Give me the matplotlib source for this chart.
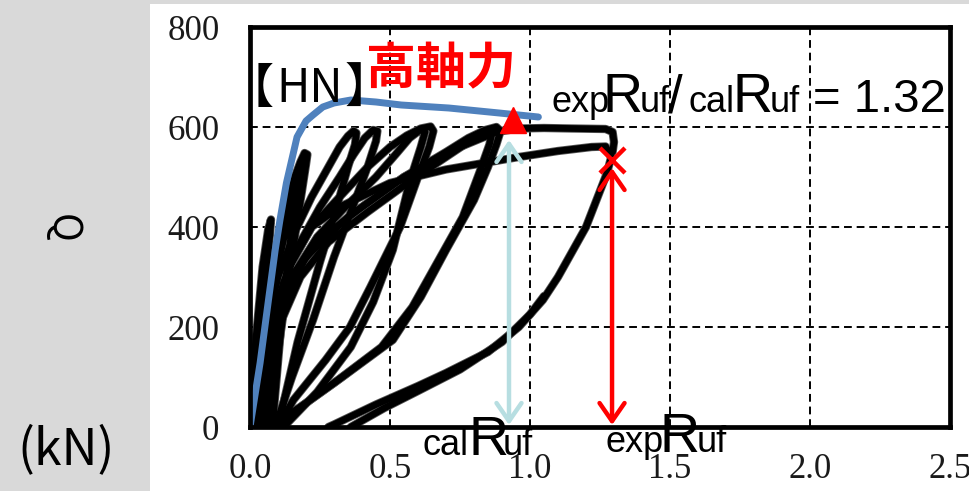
import matplotlib
matplotlib.use("Agg")
import matplotlib.pyplot as plt
from matplotlib.patches import Rectangle

# ---------------- data ----------------
x_ticks = [0.0, 0.5, 1.0, 1.5, 2.0, 2.5]
x_tick_labels = ["0.0", "0.5", "1.0", "1.5", "2.0", "2.5"]
y_ticks = [0, 200, 400, 600, 800]
y_tick_labels = ["0", "200", "400", "600", "800"]

# calculated skeleton curve (blue)
blue_R = [0.00, 0.036, 0.065, 0.09, 0.107, 0.13, 0.168, 0.20, 0.225, 0.26, 0.30, 0.36, 0.45, 0.54, 0.71, 0.89, 1.03]
blue_Q = [0, 128, 250, 354, 414, 488, 580, 612, 624, 640, 648, 654, 650, 644, 638, 628, 620]

# experimental hysteresis loops (black), each: loading branch then unloading branch
loopA_R = [0.00, 0.02, 0.045, 0.065, 0.075, 0.072, 0.06, 0.04, 0.02]
loopA_Q = [0, 170, 320, 395, 415, 390, 320, 170, 0]

loopB_R = [0.01, 0.04, 0.08, 0.12, 0.16, 0.18, 0.195, 0.205, 0.20, 0.185, 0.16, 0.13, 0.10, 0.07]
loopB_Q = [0, 170, 320, 420, 500, 530, 548, 545, 525, 470, 380, 270, 150, 0]

loopB2_R = [0.02, 0.05, 0.09, 0.13, 0.16, 0.18, 0.185, 0.175, 0.15, 0.12, 0.08]
loopB2_Q = [0, 160, 300, 400, 470, 510, 520, 490, 400, 260, 0]

loopC_R = [0.02, 0.06, 0.10, 0.16, 0.22, 0.28, 0.32, 0.35, 0.37, 0.38, 0.375, 0.35, 0.31, 0.25, 0.17, 0.10]
loopC_Q = [0, 200, 300, 390, 460, 520, 560, 582, 592, 588, 565, 520, 440, 330, 170, 0]

loopC2_R = [0.03, 0.07, 0.12, 0.18, 0.25, 0.32, 0.37, 0.41, 0.44, 0.455, 0.45, 0.42, 0.36, 0.30, 0.225, 0.15, 0.09]
loopC2_Q = [0, 190, 290, 370, 440, 500, 545, 578, 594, 592, 572, 520, 430, 340, 214, 100, 0]

loopD_R = [0.04, 0.08, 0.14, 0.22, 0.32, 0.42, 0.50, 0.56, 0.61, 0.645, 0.655, 0.64, 0.60, 0.536, 0.43, 0.357, 0.27, 0.155, 0.10]
loopD_Q = [0, 200, 320, 400, 460, 520, 560, 583, 597, 601, 592, 560, 500, 400, 280, 200, 134, 54, 0]

loopD2_R = [0.05, 0.09, 0.15, 0.24, 0.34, 0.45, 0.52, 0.57, 0.61, 0.625, 0.61, 0.57, 0.51, 0.44, 0.36, 0.24, 0.12]
loopD2_Q = [0, 190, 300, 380, 440, 500, 545, 578, 595, 590, 560, 490, 354, 250, 160, 70, 0]

loopE_R = [0.05, 0.10, 0.16, 0.26, 0.40, 0.55, 0.70, 0.78, 0.84, 0.88, 0.895, 0.88, 0.85, 0.80, 0.70, 0.61, 0.51, 0.33, 0.18, 0.07]
loopE_Q = [0, 220, 310, 380, 440, 500, 550, 578, 594, 600, 592, 565, 520, 454, 354, 260, 174, 100, 40, 0]

loopE2_R = [0.06, 0.11, 0.18, 0.28, 0.42, 0.58, 0.70, 0.78, 0.84, 0.865, 0.855, 0.82, 0.76, 0.68, 0.58, 0.47, 0.30, 0.16, 0.08]
loopE2_Q = [0, 210, 300, 370, 430, 495, 540, 570, 590, 590, 565, 510, 420, 340, 240, 160, 88, 32, 0]

loopF_R = [0.06, 0.12, 0.20, 0.35, 0.55, 0.75, 0.88, 0.96, 1.05, 1.15, 1.27, 1.295, 1.30, 1.295]
loopF_Q = [0, 250, 340, 420, 500, 560, 590, 597, 598, 597, 596, 590, 570, 550]

loopG_R = [0.04, 0.08, 0.14, 0.22, 0.32, 0.50, 0.70, 0.96, 1.10, 1.22, 1.27, 1.29,
           1.275, 1.20, 1.10, 1.046, 0.96, 0.85, 0.70, 0.60, 0.45, 0.30, 0.28]
loopG_Q = [0, 200, 320, 400, 440, 488, 515, 540, 552, 560, 561, 540,
           508, 400, 300, 254, 200, 150, 108, 82, 45, 5, 0]

loopG2_R = [1.05, 1.00, 0.90, 0.75, 0.60, 0.48, 0.36]
loopG2_Q = [262, 225, 170, 115, 72, 38, 0]

loops = [(loopA_R, loopA_Q), (loopB_R, loopB_Q), (loopB2_R, loopB2_Q),
         (loopC_R, loopC_Q), (loopC2_R, loopC2_Q), (loopD_R, loopD_Q),
         (loopD2_R, loopD2_Q), (loopE_R, loopE_Q), (loopE2_R, loopE2_Q),
         (loopF_R, loopF_Q), (loopG_R, loopG_Q), (loopG2_R, loopG2_Q)]

# markers / arrows
peak_R, peak_Q = 0.94, 614          # red triangle
fail_R, fail_Q = 1.293, 534         # red cross
calR, calR_top = 0.925, 574         # light-blue arrow
expR, expR_top = 1.293, 518         # red arrow

# ---------------- figure ----------------
W, H = 970, 491
fig = plt.figure(figsize=(W / 100, H / 100), dpi=100, facecolor="#d9d9d9")
fig.patches.append(Rectangle((150 / W, 0), 820 / W, 487 / H, transform=fig.transFigure,
                             facecolor="white", edgecolor="none", zorder=-10))

def fx(px):
    return px / W

def fy(py):
    return 1 - py / H

ax = fig.add_axes([fx(250), fy(427), 700 / W, 400 / H])
ax.set_zorder(1)
ax.set_xlim(0, 2.5)
ax.set_ylim(0, 800)
ax.set_facecolor("white")

ax.set_xticks(x_ticks)
ax.set_xticklabels(x_tick_labels)
ax.set_yticks(y_ticks)
ax.set_yticklabels(y_tick_labels)
ax.tick_params(length=0, labelsize=25, colors="#1a1a1a")
ax.tick_params(axis="x", pad=19)
ax.tick_params(axis="y", pad=22)
for lab in ax.get_xticklabels() + ax.get_yticklabels():
    lab.set_family("Liberation Serif")

for s in ax.spines.values():
    s.set_linewidth(3.4)
    s.set_color("black")
    s.set_zorder(6)

ax.grid(True, color="black", linestyle=(0, (4, 2.5)), linewidth=1.4, zorder=0.5)
ax.set_axisbelow(True)

for r, q in loops:
    ax.plot(r, q, color="#555555", lw=6.0, solid_capstyle="round", solid_joinstyle="round", zorder=2)
for r, q in loops:
    ax.plot(r, q, color="black", lw=4.8, solid_capstyle="round", solid_joinstyle="round", zorder=2.1)

ax.plot(blue_R, blue_Q, color="#4f81bd", lw=5.0, solid_capstyle="round", solid_joinstyle="round", zorder=3)

ax.annotate("", xy=(calR, 4), xytext=(calR, calR_top),
            arrowprops=dict(arrowstyle="<->,head_length=0.65,head_width=0.45", color="#b7dee1",
                            lw=3.2, mutation_scale=20, shrinkA=0, shrinkB=0), zorder=4)
ax.annotate("", xy=(expR, 4), xytext=(expR, expR_top),
            arrowprops=dict(arrowstyle="<->,head_length=0.65,head_width=0.45", color="#ff0000",
                            lw=3.2, mutation_scale=20, shrinkA=0, shrinkB=0), zorder=4)

ax.plot([peak_R], [peak_Q], marker="^", color="#ff0000", ms=19, mec="#ff0000", zorder=5, ls="none")
ax.plot([fail_R], [fail_Q], marker="x", color="#ff0000", ms=18, mew=3.2, zorder=5, ls="none")

# ---------------- texts ----------------
cjk = ["Noto Sans CJK JP", "DejaVu Sans"]
sans = ["Liberation Sans", "DejaVu Sans"]

def ftext(px, py, s, **kw):
    t = fig.text(fx(px), fy(py), s, **kw)
    t.set_zorder(10)
    return t

ftext(62, 228, "Q", rotation=-90, ha="center", va="center", fontsize=28, family=cjk)
ftext(66, 450, "(kN)", ha="center", va="center", fontsize=36, family=cjk)

ftext(274, 90, "【", ha="right", va="center", fontsize=34, family=cjk)
ftext(276, 102, "HN", ha="left", va="baseline", fontsize=33, family=cjk)
ftext(344, 90, "】", ha="left", va="center", fontsize=34, family=cjk)
ftext(366, 70, "高軸力", ha="left", va="center", fontsize=36, family=cjk,
      color="#ff0000", fontweight="bold")

def piece(px, py, s, size):
    ftext(px, py, s, ha="left", va="baseline", fontsize=size, family=sans)

base = 112
piece(552, base, "exp", 26)
piece(603, base, "R", 40)
piece(640, base, "uf", 26)
piece(668, base, "/", 38)
piece(689, base, "cal", 26)
piece(733, base, "R", 40)
piece(770, base, "uf", 26)
piece(813, base, "= 1.32", 34)

piece(423, 455, "cal", 26)
piece(469, 455, "R", 40)
piece(503, 455, "uf", 26)

piece(606, 452, "exp", 26)
piece(660, 452, "R", 40)
piece(697, 452, "uf", 26)

fig.savefig("out.png", dpi=100, facecolor=fig.get_facecolor())
